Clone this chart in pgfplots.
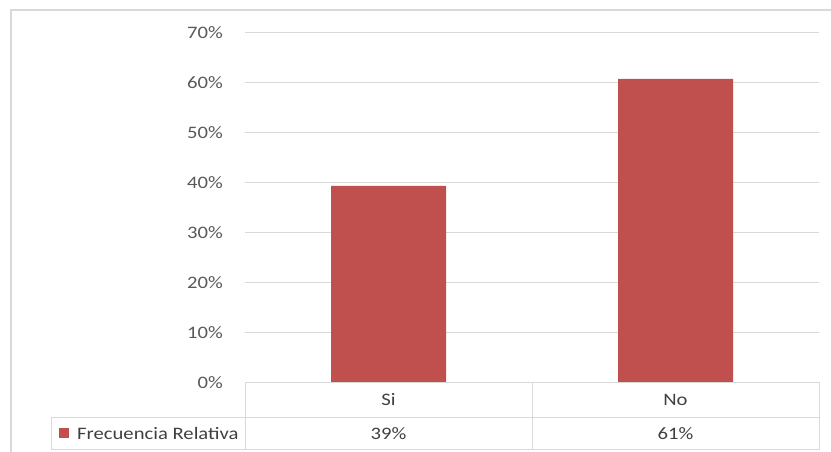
\documentclass[border=0pt]{standalone}
\usepackage{pgfplots}
\pgfplotsset{compat=1.18}
\usepackage{fontspec}
\setmainfont{Carlito}[FakeStretch=1.18]
\definecolor{barred}{HTML}{C0504D}
\definecolor{gridgray}{HTML}{D9D9D9}
\definecolor{ticktxt}{HTML}{595959}
\definecolor{tabtxt}{HTML}{404040}
\newcommand\cf{\fontsize{17.5}{21}\selectfont}

\begin{document}
\begin{tikzpicture}[x=1pt,y=1pt]
\useasboundingbox (0,0) rectangle (831,452);
% outer frame (top and left edges)
\draw[gridgray, line width=2pt] (10.5,0) -- (10.5,441.5) -- (831,441.5);

\begin{axis}[
    at={(245pt,69.5pt)},
    anchor=south west,
    scale only axis,
    width=574pt,
    height=350pt,
    ybar,
    bar width=115pt,
    xmin=-0.5, xmax=1.5,
    ymin=0, ymax=70,
    ytick={0,10,...,70},
    xtick=\empty,
    axis line style={draw=none},
    major tick length=0pt,
    ymajorgrids,
    grid style={gridgray, line width=1pt},
    /pgf/number format/assume math mode=true,
    yticklabel={\pgfmathprintnumber{\tick}\%},
    yticklabel style={font=\cf, text=ticktxt, anchor=east, inner sep=0pt, xshift=-22pt},
    clip=false,
]
\addplot[fill=barred, draw=none] coordinates {(0,39.3) (1,60.7)};
\end{axis}

% data table below the plot
\draw[gridgray, line width=1pt]
    (245,69.5) -- (819,69.5)
    (51,34) -- (819,34)
    (51,2) -- (819,2)
    (245,2) -- (245,69.5)
    (532,2) -- (532,69.5)
    (819,2) -- (819,69.5)
    (51,2) -- (51,34);
\node[font=\cf, text=tabtxt] at (388.5,52) {Si};
\node[font=\cf, text=tabtxt] at (675.5,52) {No};
\node[font=\cf, text=tabtxt] at (388.5,18) {39\%};
\node[font=\cf, text=tabtxt] at (675.5,18) {61\%};
\fill[barred] (58.5,13.5) rectangle (69,24);
\node[font=\cf, text=tabtxt, anchor=west, inner sep=0pt] at (77,19) {Frecuencia Relativa};
\end{tikzpicture}
\end{document}
